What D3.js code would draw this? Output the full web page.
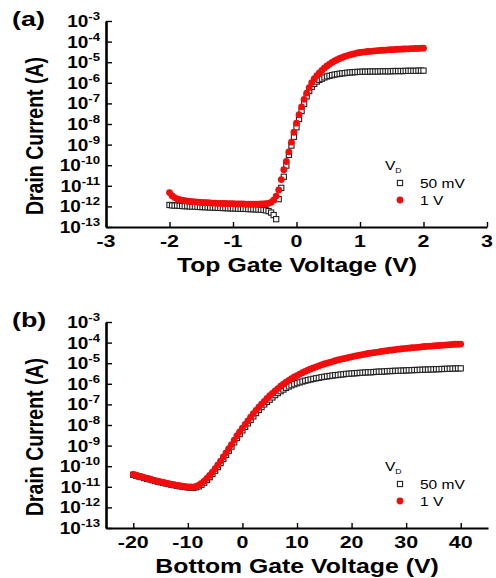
<!DOCTYPE html>
<html>
<head>
<meta charset="utf-8">
<script src="https://cdn.jsdelivr.net/npm/d3@7"></script>
<style>
  body { margin: 0; background: #fff; }
  svg { display: block; }
  text { font-family: "Liberation Sans", Arial, sans-serif; fill: #000; }
</style>
</head>
<body>
<script>
const width  = 496;
const height = 578;

// gate sweeps (set points of the measurement)
const topVgStart = -2,  topVgStep = 0.04, topVgCount = 101;
const botVgStart = -20, botVgStep = 0.5,  botVgCount = 121;

// log10 of drain current (A)
// (a) top gate, VD = 50 mV
const topLog50mV = [
  -11.93, -11.95, -11.96, -11.96, -11.97, -11.98, -11.99, -11.99, -12.00, -12.01,
  -12.01, -12.02, -12.03, -12.03, -12.04, -12.04, -12.05, -12.06, -12.06, -12.07,
  -12.07, -12.08, -12.08, -12.09, -12.09, -12.10, -12.10, -12.11, -12.11, -12.12,
  -12.12, -12.13, -12.13, -12.14, -12.14, -12.15, -12.16, -12.17, -12.19, -12.23,
  -12.30, -12.42, -12.62, -11.65, -11.10, -10.56, -10.02, -9.50, -9.05, -8.62,
  -8.16, -7.76, -7.37, -7.03, -6.66, -6.40, -6.20, -6.05, -5.94, -5.86,
  -5.80, -5.74, -5.69, -5.66, -5.63, -5.60, -5.58, -5.56, -5.54, -5.53,
  -5.51, -5.50, -5.49, -5.48, -5.47, -5.47, -5.46, -5.46, -5.46, -5.45,
  -5.45, -5.45, -5.45, -5.44, -5.44, -5.44, -5.44, -5.44, -5.43, -5.43,
  -5.43, -5.43, -5.43, -5.42, -5.42, -5.42, -5.42, -5.42, -5.41, -5.41,
  -5.41
];
// (a) top gate, VD = 1 V
const topLog1V = [
  -11.33, -11.48, -11.57, -11.63, -11.67, -11.70, -11.72, -11.74, -11.76, -11.77,
  -11.78, -11.79, -11.80, -11.81, -11.82, -11.82, -11.83, -11.84, -11.84, -11.85,
  -11.85, -11.86, -11.86, -11.87, -11.87, -11.87, -11.88, -11.88, -11.88, -11.88,
  -11.89, -11.89, -11.89, -11.89, -11.89, -11.89, -11.88, -11.88, -11.87, -11.85,
  -11.80, -11.70, -11.50, -11.20, -10.70, -10.22, -9.82, -9.35, -8.88, -8.40,
  -7.96, -7.55, -7.17, -6.80, -6.50, -6.23, -5.99, -5.80, -5.65, -5.52,
  -5.40, -5.28, -5.18, -5.09, -5.01, -4.94, -4.88, -4.82, -4.77, -4.72,
  -4.68, -4.64, -4.61, -4.58, -4.55, -4.53, -4.51, -4.50, -4.48, -4.47,
  -4.46, -4.45, -4.44, -4.43, -4.42, -4.41, -4.40, -4.39, -4.39, -4.38,
  -4.37, -4.37, -4.36, -4.35, -4.35, -4.34, -4.34, -4.33, -4.33, -4.32,
  -4.32
];
// (b) bottom gate, VD = 50 mV
const botLog50mV = [
  -10.42, -10.46, -10.50, -10.53, -10.57, -10.61, -10.64, -10.68, -10.72, -10.75,
  -10.78, -10.81, -10.84, -10.87, -10.90, -10.92, -10.95, -10.97, -10.99, -11.01,
  -11.03, -11.04, -11.05, -11.02, -10.98, -10.90, -10.80, -10.67, -10.53, -10.38,
  -10.22, -10.04, -9.85, -9.65, -9.45, -9.25, -9.05, -8.84, -8.63, -8.44,
  -8.26, -8.09, -7.92, -7.75, -7.58, -7.42, -7.27, -7.13, -7.00, -6.88,
  -6.77, -6.66, -6.55, -6.45, -6.36, -6.28, -6.20, -6.13, -6.07, -6.02,
  -5.97, -5.93, -5.89, -5.85, -5.82, -5.79, -5.76, -5.73, -5.71, -5.68,
  -5.66, -5.64, -5.62, -5.60, -5.58, -5.57, -5.55, -5.54, -5.52, -5.51,
  -5.50, -5.49, -5.48, -5.47, -5.46, -5.45, -5.44, -5.44, -5.43, -5.42,
  -5.41, -5.41, -5.40, -5.39, -5.38, -5.38, -5.37, -5.37, -5.36, -5.36,
  -5.35, -5.34, -5.34, -5.33, -5.33, -5.32, -5.32, -5.31, -5.31, -5.30,
  -5.30, -5.29, -5.29, -5.28, -5.28, -5.27, -5.27, -5.26, -5.26, -5.25,
  -5.25
];
// (b) bottom gate, VD = 1 V
const botLog1V = [
  -10.40, -10.44, -10.48, -10.51, -10.55, -10.59, -10.62, -10.66, -10.70, -10.73,
  -10.76, -10.79, -10.82, -10.85, -10.88, -10.90, -10.93, -10.95, -10.97, -10.99,
  -11.00, -11.01, -11.02, -10.98, -10.92, -10.83, -10.72, -10.59, -10.45, -10.29,
  -10.12, -9.94, -9.75, -9.55, -9.35, -9.15, -8.95, -8.73, -8.52, -8.33,
  -8.15, -7.97, -7.80, -7.62, -7.45, -7.29, -7.13, -6.99, -6.85, -6.71,
  -6.58, -6.46, -6.34, -6.23, -6.12, -6.02, -5.92, -5.83, -5.75, -5.67,
  -5.60, -5.53, -5.46, -5.40, -5.34, -5.28, -5.23, -5.18, -5.13, -5.08,
  -5.04, -5.00, -4.96, -4.92, -4.88, -4.84, -4.81, -4.78, -4.75, -4.72,
  -4.69, -4.66, -4.63, -4.61, -4.58, -4.56, -4.53, -4.51, -4.49, -4.47,
  -4.45, -4.43, -4.41, -4.39, -4.37, -4.36, -4.34, -4.32, -4.31, -4.29,
  -4.28, -4.27, -4.25, -4.24, -4.23, -4.22, -4.20, -4.19, -4.18, -4.17,
  -4.16, -4.15, -4.14, -4.13, -4.12, -4.11, -4.10, -4.09, -4.08, -4.08,
  -4.07
];

const yExponents  = [-3, -4, -5, -6, -7, -8, -9, -10, -11, -12, -13];
const topXTicks   = [-3, -2, -1, 0, 1, 2, 3];
const topXMinor   = [-2.5, -1.5, -0.5, 0.5, 1.5, 2.5];
const botXTicks   = [-20, -10, 0, 10, 20, 30, 40];
const botXMinor   = [-15, -5, 5, 15, 25, 35, 45];
const legendNames = ['50 mV', '1 V'];

const sx = 1.22; // the source picture is stretched sideways a bit

const svg = d3.select('body').append('svg')
  .attr('width', width)
  .attr('height', height);

// text with the sideways stretch
function label(g, x, y, str, size, opts) {
  opts = opts || {};
  const t = g.append('text')
    .attr('transform', 'translate(' + x + ',' + y + ') scale(' + (opts.sx || sx) + ',1)' + (opts.rot ? ' rotate(' + opts.rot + ')' : ''))
    .attr('font-size', size)
    .attr('font-weight', opts.weight || 'bold')
    .attr('text-anchor', opts.anchor || 'middle');
  t.text(str);
  return t;
}

function toPoints(start, step, logs) {
  return logs.map((v, i) => ({ vg: start + i * step, id: Math.pow(10, v) }));
}

const panels = [
  {
    tag: '(a)', title: 'Top Gate Voltage (V)',
    xDomain: [-3, 3], xRange: [106, 487], yRange: [227, 21],
    ticks: topXTicks, minor: topXMinor,
    black: toPoints(topVgStart, topVgStep, topLog50mV),
    red:   toPoints(topVgStart, topVgStep, topLog1V),
    legendX: 385, legendY: 170
  },
  {
    tag: '(b)', title: 'Bottom Gate Voltage (V)',
    xDomain: [-25, 45], xRange: [106, 488], yRange: [528, 322],
    ticks: botXTicks, minor: botXMinor,
    black: toPoints(botVgStart, botVgStep, botLog50mV),
    red:   toPoints(botVgStart, botVgStep, botLog1V),
    legendX: 385, legendY: 471
  }
];

panels.forEach(p => {
  const g = svg.append('g');
  const x = d3.scaleLinear().domain(p.xDomain).range(p.xRange);
  const y = d3.scaleLog().domain([1e-13, 1e-3]).range(p.yRange);
  const x0 = p.xRange[0], yb = p.yRange[0];

  // data, open squares under filled circles
  g.append('g').selectAll('rect')
    .data(p.black).enter().append('rect')
    .attr('x', d => x(d.vg) - 2.6)
    .attr('y', d => y(d.id) - 2.6)
    .attr('width', 5.2).attr('height', 5.2)
    .attr('fill', '#fff').attr('stroke', '#222').attr('stroke-width', 1.1);

  g.append('g').selectAll('circle')
    .data(p.red).enter().append('circle')
    .attr('cx', d => x(d.vg))
    .attr('cy', d => y(d.id))
    .attr('r', 3.4)
    .attr('fill', '#f20d0d');

  // y axis: decades and log minor ticks, pointing inward
  const yMinor = [];
  for (let e = -13; e < -3; e++) for (let m = 2; m <= 9; m++) yMinor.push(m * Math.pow(10, e));
  const yax = g.append('g').attr('transform', 'translate(' + x0 + ',0)');
  yax.call(d3.axisLeft(y).tickValues(yMinor).tickSizeInner(-2.5).tickSizeOuter(0).tickFormat(''));
  yax.call(d3.axisLeft(y).tickValues(yExponents.map(e => Math.pow(10, e))).tickSizeInner(-6).tickSizeOuter(0).tickFormat(''));
  yax.selectAll('path.domain').attr('stroke-width', 2.6);
  yax.selectAll('line').attr('stroke-width', 1.4);

  yExponents.forEach(e => {
    const t = label(g, 100, y(Math.pow(10, e)) + 6, '', 16.5, { anchor: 'end', sx: 1.15 });
    t.append('tspan').text('10');
    t.append('tspan').attr('dy', -7).attr('font-size', 11.5).text(e);
  });

  // x axis: majors and half-step minors, pointing inward
  const xax = g.append('g').attr('transform', 'translate(0,' + yb + ')');
  xax.call(d3.axisBottom(x).tickValues(p.minor).tickSizeInner(-2.5).tickSizeOuter(0).tickFormat(''));
  xax.call(d3.axisBottom(x).tickValues(p.ticks).tickSizeInner(-5).tickSizeOuter(0).tickFormat(''));
  xax.selectAll('path.domain').attr('stroke-width', 2.2);
  xax.selectAll('line').attr('stroke-width', 1.4);

  p.ticks.forEach(v => label(g, x(v), yb + 19.5, String(v), 16.5, { sx: 1.3 }));

  // titles
  label(g, 297, yb + 45, p.title, 20.5, { sx: 1.21 });
  label(g, 43, (p.yRange[0] + p.yRange[1]) / 2 + 12, 'Drain Current (A)', 19.5, { rot: -90 });
  label(g, 12, p.yRange[1] + 5, p.tag, 21, { anchor: 'start', sx: 1.28 });

  // legend
  const lv = label(g, p.legendX, p.legendY, '', 13.5, { anchor: 'start', weight: 'normal', sx: 1.15 });
  lv.append('tspan').text('V');
  lv.append('tspan').attr('dy', 3).attr('font-size', 7.5).text('D');

  const lx = p.legendX + 15;
  g.append('rect')
    .attr('x', lx - 2.6).attr('y', p.legendY + 13 - 2.6)
    .attr('width', 5.2).attr('height', 5.2)
    .attr('fill', '#fff').attr('stroke', '#222').attr('stroke-width', 1.1);
  g.append('circle')
    .attr('cx', lx).attr('cy', p.legendY + 30).attr('r', 3.4)
    .attr('fill', '#f20d0d');
  legendNames.forEach((n, i) => {
    label(g, p.legendX + 35, p.legendY + 18 + i * 16.5, n, 13.5, { anchor: 'start', weight: 'normal', sx: 1.15 });
  });
});
</script>
</body>
</html>
